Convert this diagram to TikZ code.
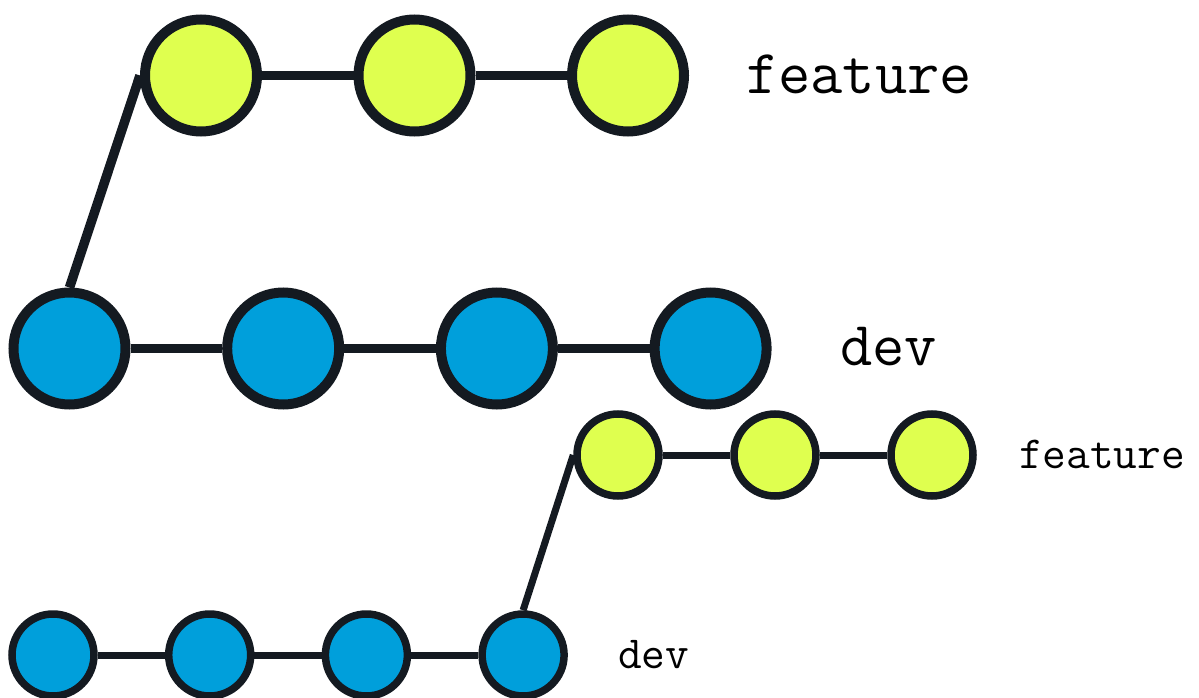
\documentclass[tikz,border=0pt]{standalone}
\usepackage{tikz}
\usetikzlibrary{positioning}
\definecolor{featgreen}{HTML}{DFFF4F}
\definecolor{devblue}{HTML}{009FDB}
\definecolor{edgedark}{HTML}{141A21}
\begin{document}
\begin{tikzpicture}[x=1pt, y=-1pt, on grid,
                    every commit/.style = {circle, draw=edgedark, inner sep=0pt},
                    big commit/.style = {line width=10pt, minimum size=112pt, every commit},
                    small commit/.style = {line width=7.5pt, minimum size=82pt, every commit},
                    feature commit/.style = {fill=featgreen},
                    dev commit/.style = {fill=devblue},
                    big link/.style = {draw=edgedark, line width=9.5pt},
                    small link/.style = {draw=edgedark, line width=7pt},
                    big label/.style = {anchor=base west, inner sep=0pt, font=\fontsize{62.6}{70}\selectfont\ttfamily},
                    small label/.style = {anchor=base west, inner sep=0pt, font=\fontsize{46}{52}\selectfont\ttfamily}]
                \useasboundingbox (0,0) rectangle (1199,698);
                % big: feature branch top
                \node at (201,75.5) [big commit, feature commit] (bf1) {};
                \node [big commit, feature commit, right=213.5pt of bf1] (bf2) {};
                \node [big commit, feature commit, right=213.5pt of bf2] (bf3) {};
                \node at (746,94) [big label] (bfname) {feature};
                % big: dev branch
                \node at (69.5,348.5) [big commit, dev commit] (bd1) {};
                \node [big commit, dev commit, right=213.7pt of bd1] (bd2) {};
                \node [big commit, dev commit, right=213.7pt of bd2] (bd3) {};
                \node [big commit, dev commit, right=213.7pt of bd3] (bd4) {};
                \node at (840,365) [big label] (bdname) {dev};
                % big: connections
                \draw[big link] (bf1) -- (bf2);
                \draw[big link] (bf2) -- (bf3);
                \draw[big link] (bd1) -- (bd2);
                \draw[big link] (bd2) -- (bd3);
                \draw[big link] (bd3) -- (bd4);
                \draw[big link] (bd1.north) -- (bf1.west);
                % small: feature branch
                \node at (618,455) [small commit, feature commit] (sf1) {};
                \node [small commit, feature commit, right=157pt of sf1] (sf2) {};
                \node [small commit, feature commit, right=157pt of sf2] (sf3) {};
                \node at (1019,468) [small label] (sfname) {feature};
                % small: dev branch
                \node at (53,655) [small commit, dev commit] (sd1) {};
                \node [small commit, dev commit, right=156.7pt of sd1] (sd2) {};
                \node [small commit, dev commit, right=156.7pt of sd2] (sd3) {};
                \node [small commit, dev commit, right=156.7pt of sd3] (sd4) {};
                \node at (618,668) [small label] (sdname) {dev};
                % small: connections
                \draw[small link] (sf1) -- (sf2);
                \draw[small link] (sf2) -- (sf3);
                \draw[small link] (sd1) -- (sd2);
                \draw[small link] (sd2) -- (sd3);
                \draw[small link] (sd3) -- (sd4);
                \draw[small link] (sd4.north) -- (sf1.west);
            \end{tikzpicture}
\end{document}
